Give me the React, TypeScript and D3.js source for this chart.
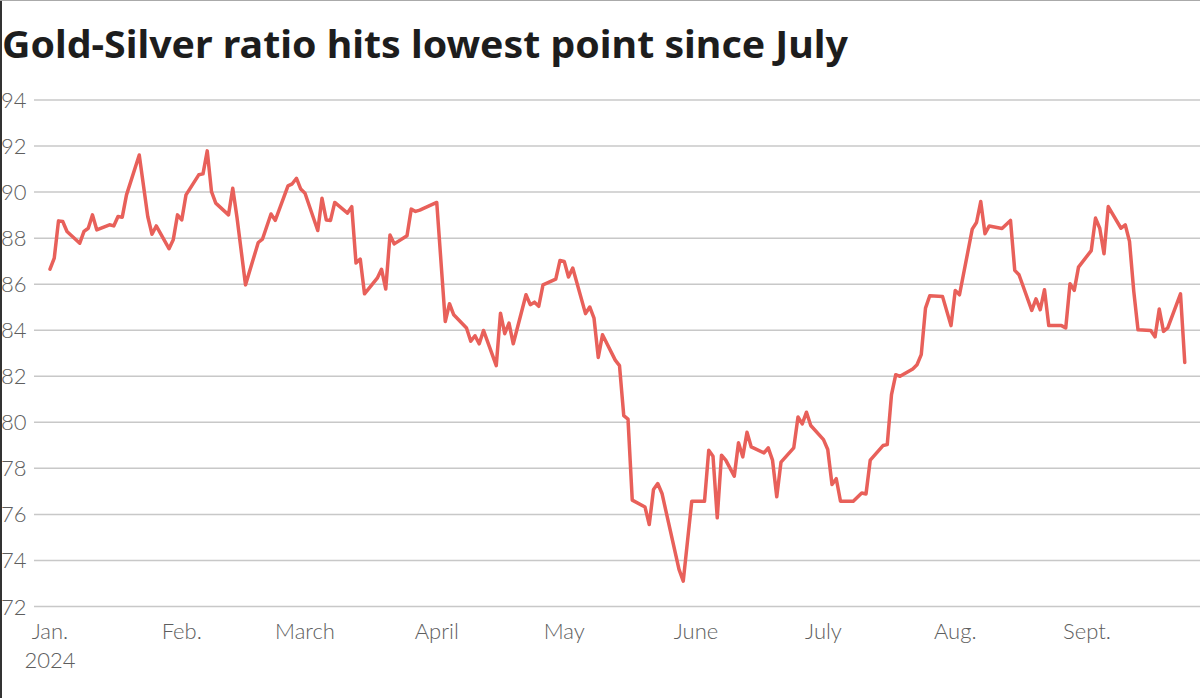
import React from "react";
import * as d3 from "d3";

// Dates and gold/silver ratio values
const dates: string[] = [
  "2024-01-01","2024-01-02","2024-01-03","2024-01-04","2024-01-05","2024-01-08","2024-01-09","2024-01-10","2024-01-11","2024-01-12",
  "2024-01-15","2024-01-16","2024-01-17","2024-01-18","2024-01-19","2024-01-22","2024-01-24","2024-01-25","2024-01-26","2024-01-29",
  "2024-01-30","2024-01-31","2024-02-01","2024-02-02","2024-02-05","2024-02-06","2024-02-07","2024-02-08","2024-02-09","2024-02-12",
  "2024-02-13","2024-02-14","2024-02-16","2024-02-19","2024-02-20","2024-02-22","2024-02-23","2024-02-26","2024-02-27","2024-02-28",
  "2024-02-29","2024-03-01","2024-03-04","2024-03-05","2024-03-06","2024-03-07","2024-03-08","2024-03-11","2024-03-12","2024-03-13",
  "2024-03-14","2024-03-15","2024-03-18","2024-03-19","2024-03-20","2024-03-21","2024-03-22","2024-03-25","2024-03-26","2024-03-27",
  "2024-03-28","2024-04-01","2024-04-03","2024-04-04","2024-04-05","2024-04-08","2024-04-09","2024-04-10","2024-04-11","2024-04-12",
  "2024-04-15","2024-04-16","2024-04-17","2024-04-18","2024-04-19","2024-04-22","2024-04-23","2024-04-24","2024-04-25","2024-04-26",
  "2024-04-29","2024-04-30","2024-05-01","2024-05-02","2024-05-03","2024-05-06","2024-05-07","2024-05-08","2024-05-09","2024-05-10",
  "2024-05-13","2024-05-14","2024-05-15","2024-05-16","2024-05-17","2024-05-20","2024-05-21","2024-05-22","2024-05-23","2024-05-24",
  "2024-05-28","2024-05-29","2024-05-31","2024-06-03","2024-06-04","2024-06-05","2024-06-06","2024-06-07","2024-06-08","2024-06-10",
  "2024-06-11","2024-06-12","2024-06-13","2024-06-14","2024-06-17","2024-06-18","2024-06-19","2024-06-20","2024-06-21","2024-06-24",
  "2024-06-25","2024-06-26","2024-06-27","2024-06-28","2024-07-01","2024-07-02","2024-07-03","2024-07-04","2024-07-05","2024-07-08",
  "2024-07-10","2024-07-11","2024-07-12","2024-07-15","2024-07-16","2024-07-17","2024-07-18","2024-07-19","2024-07-22","2024-07-23",
  "2024-07-24","2024-07-25","2024-07-26","2024-07-29","2024-07-31","2024-08-01","2024-08-02","2024-08-05","2024-08-06","2024-08-07",
  "2024-08-08","2024-08-09","2024-08-12","2024-08-14","2024-08-15","2024-08-16","2024-08-19","2024-08-20","2024-08-21","2024-08-22",
  "2024-08-23","2024-08-26","2024-08-27","2024-08-28","2024-08-29","2024-08-30","2024-09-02","2024-09-03","2024-09-04","2024-09-05",
  "2024-09-06","2024-09-09","2024-09-10","2024-09-11","2024-09-12","2024-09-13","2024-09-16","2024-09-17","2024-09-18","2024-09-19",
  "2024-09-20","2024-09-23","2024-09-24"
];

const ratio: number[] = [
  86.65,87.13,88.75,88.72,88.29,87.78,88.29,88.43,89.01,88.36,
  88.58,88.53,88.94,88.91,89.88,91.61,88.94,88.17,88.53,87.54,
  87.93,89.01,88.79,89.88,90.75,90.79,91.79,90.02,89.52,89.01,
  90.17,88.9,85.97,87.81,87.96,89.05,88.77,90.27,90.36,90.6,
  90.13,89.95,88.33,89.73,88.79,88.77,89.55,89.09,89.37,86.92,
  87.09,85.58,86.26,86.65,85.79,88.14,87.75,88.1,89.26,89.16,
  89.22,89.55,84.38,85.15,84.67,84.1,83.52,83.76,83.41,83.99,
  82.46,84.74,83.85,84.31,83.41,85.54,85.11,85.22,85.04,85.97,
  86.22,87.03,86.99,86.31,86.7,84.72,85.01,84.53,82.82,83.8,
  82.7,82.46,80.29,80.14,76.62,76.32,75.56,77.08,77.34,76.91,
  73.61,73.1,76.57,76.57,78.79,78.53,75.85,78.57,78.36,77.66,
  79.11,78.5,79.57,78.93,78.67,78.89,78.36,76.77,78.27,78.89,
  80.23,79.93,80.44,79.86,79.25,78.82,77.3,77.55,76.57,76.57,
  76.93,76.89,78.36,78.99,79.03,81.2,82.07,82.0,82.32,82.5,
  82.94,84.96,85.5,85.47,84.2,85.73,85.54,88.39,88.68,89.59,
  88.19,88.53,88.42,88.77,86.6,86.41,84.86,85.36,84.89,85.76,
  84.2,84.2,84.1,86.02,85.73,86.74,87.46,88.87,88.43,87.32,
  89.37,88.43,88.58,87.86,85.7,84.02,83.99,83.71,84.92,83.95,
  84.1,85.58,82.6
];

const yTicks: number[] = [72, 74, 76, 78, 80, 82, 84, 86, 88, 90, 92, 94];
const monthTicks: string[] = ["2024-01-01","2024-02-01","2024-03-01","2024-04-01","2024-05-01","2024-06-01","2024-07-01","2024-08-01","2024-09-01"];
const monthLabels: string[] = ["Jan.","Feb.","March","April","May","June","July","Aug.","Sept."];
const title = "Gold-Silver ratio hits lowest point since July";

export default function App() {
  const W = 1200, H = 698;
  const parse = d3.timeParse("%Y-%m-%d");
  const data = dates.map((d, i) => ({ date: parse(d) as Date, value: ratio[i] }));

  const x = d3.scaleTime()
    .domain([parse("2024-01-01") as Date, parse("2024-09-28") as Date])
    .range([50, 50 + 271 * 4.25]);
  const y = d3.scaleLinear().domain([72, 94]).range([606.5, 100]);

  const line = d3.line<{ date: Date; value: number }>()
    .x(d => x(d.date))
    .y(d => y(d.value))
    .curve(d3.curveLinear);

  const labelFont = "Lato, 'Noto Sans', sans-serif";

  return (
    <svg width={W} height={H} style={{ position: "absolute", left: 0, top: 0, background: "#fff" }}>
      <rect x={0} y={0} width={W} height={H} fill="#fff" />
      <text x={2} y={58} fontFamily="'Noto Sans', sans-serif" fontWeight={700} fontSize={38}
        fill="#1d1d1d" textLength={846} lengthAdjust="spacingAndGlyphs">{title}</text>
      {yTicks.map(t => (
        <g key={t}>
          <line x1={34} x2={1200} y1={y(t)} y2={y(t)} stroke="#c8c8c8" strokeWidth={1.5} />
          <text x={1} y={y(t) + 8} fontFamily={labelFont} fontWeight={300} fontSize={22} fill="#5e5e5e">{t}</text>
        </g>
      ))}
      <path d={line(data) || ""} fill="none" stroke="#e8605a" strokeWidth={3.5} strokeLinejoin="round" strokeLinecap="round" />
      {monthTicks.map((m, i) => (
        <text key={m} x={x(parse(m) as Date)} y={639} textAnchor="middle" fontFamily={labelFont}
          fontWeight={300} fontSize={22} fill="#5e5e5e">{monthLabels[i]}</text>
      ))}
      <text x={x(parse(monthTicks[0]) as Date)} y={668} textAnchor="middle" fontFamily={labelFont}
        fontWeight={300} fontSize={22} fill="#5e5e5e">2024</text>
      <line x1={1} x2={1} y1={0} y2={H} stroke="#333" strokeWidth={2} />
      <line x1={0} x2={W} y1={0.5} y2={0.5} stroke="#aaa" strokeWidth={1} />
    </svg>
  );
}
